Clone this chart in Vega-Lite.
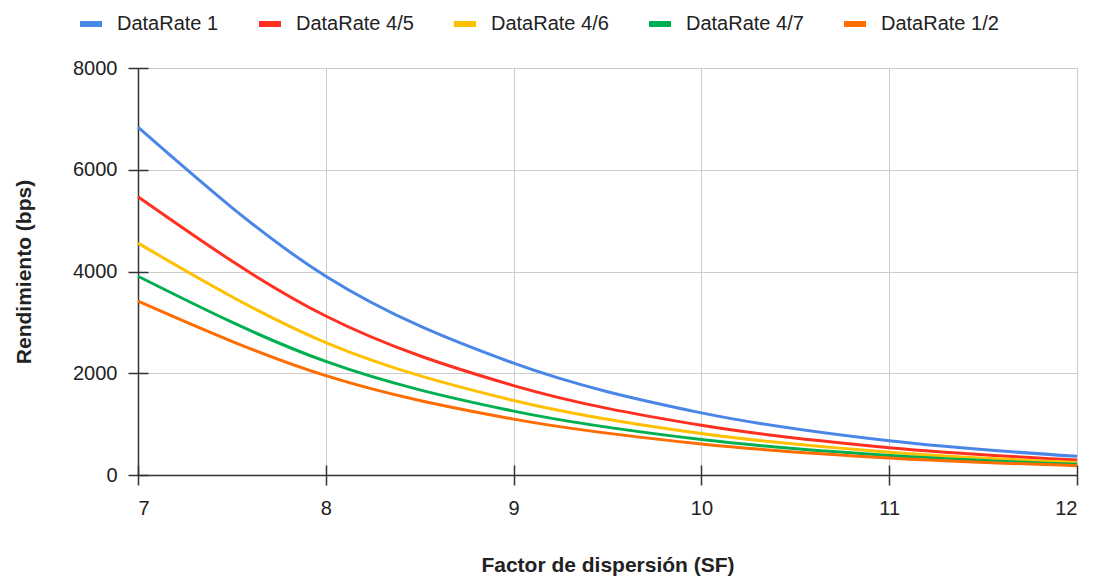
{
  "$schema": "https://vega.github.io/schema/vega-lite/v6.json",
  "width": 939,
  "height": 407,
  "autosize": {"type": "none"},
  "padding": {"left": 138, "top": 68, "right": 21, "bottom": 104},
  "background": "white",
  "config": {"view": {"stroke": null}, "font": "Liberation Sans"},
  "data": {
    "values": [
      {"sf": 7, "serie": "DataRate 1", "bps": 6835.9},
      {"sf": 8, "serie": "DataRate 1", "bps": 3906.3},
      {"sf": 9, "serie": "DataRate 1", "bps": 2197.3},
      {"sf": 10, "serie": "DataRate 1", "bps": 1220.7},
      {"sf": 11, "serie": "DataRate 1", "bps": 671.4},
      {"sf": 12, "serie": "DataRate 1", "bps": 366.2},
      {"sf": 7, "serie": "DataRate 4/5", "bps": 5468.8},
      {"sf": 8, "serie": "DataRate 4/5", "bps": 3125.0},
      {"sf": 9, "serie": "DataRate 4/5", "bps": 1757.8},
      {"sf": 10, "serie": "DataRate 4/5", "bps": 976.6},
      {"sf": 11, "serie": "DataRate 4/5", "bps": 537.1},
      {"sf": 12, "serie": "DataRate 4/5", "bps": 293.0},
      {"sf": 7, "serie": "DataRate 4/6", "bps": 4557.3},
      {"sf": 8, "serie": "DataRate 4/6", "bps": 2604.2},
      {"sf": 9, "serie": "DataRate 4/6", "bps": 1464.8},
      {"sf": 10, "serie": "DataRate 4/6", "bps": 813.8},
      {"sf": 11, "serie": "DataRate 4/6", "bps": 447.6},
      {"sf": 12, "serie": "DataRate 4/6", "bps": 244.1},
      {"sf": 7, "serie": "DataRate 4/7", "bps": 3906.3},
      {"sf": 8, "serie": "DataRate 4/7", "bps": 2232.1},
      {"sf": 9, "serie": "DataRate 4/7", "bps": 1255.6},
      {"sf": 10, "serie": "DataRate 4/7", "bps": 697.5},
      {"sf": 11, "serie": "DataRate 4/7", "bps": 383.6},
      {"sf": 12, "serie": "DataRate 4/7", "bps": 209.3},
      {"sf": 7, "serie": "DataRate 1/2", "bps": 3417.9},
      {"sf": 8, "serie": "DataRate 1/2", "bps": 1953.1},
      {"sf": 9, "serie": "DataRate 1/2", "bps": 1098.6},
      {"sf": 10, "serie": "DataRate 1/2", "bps": 610.4},
      {"sf": 11, "serie": "DataRate 1/2", "bps": 335.7},
      {"sf": 12, "serie": "DataRate 1/2", "bps": 183.1}
    ]
  },
  "layer": [
    {
      "mark": {"type": "point", "opacity": 0},
      "encoding": {
        "x": {
          "field": "sf", "type": "quantitative",
          "scale": {"domain": [7, 12], "nice": false, "zero": false},
          "axis": {"orient": "bottom", "offset": -10, "domain": false, "labels": false, "grid": false, "ticks": true, "tickSize": 20, "tickColor": "#333333", "tickWidth": 1.5, "values": [7, 8, 9, 10, 11, 12], "title": null}
        },
        "y": {
          "field": "bps", "type": "quantitative",
          "scale": {"domain": [0, 8000], "nice": false},
          "axis": {"orient": "left", "offset": -10, "domain": false, "labels": false, "grid": false, "ticks": true, "tickSize": 20, "tickColor": "#333333", "tickWidth": 1.5, "values": [0, 2000, 4000, 6000, 8000], "title": null}
        }
      }
    },
    {
      "mark": {"type": "line", "interpolate": "monotone", "strokeWidth": 3},
      "encoding": {
        "x": {
          "field": "sf", "type": "quantitative",
          "scale": {"domain": [7, 12], "nice": false, "zero": false},
          "axis": {
            "orient": "bottom", "values": [7, 8, 9, 10, 11, 12], "ticks": false, "format": "d",
            "domain": true, "domainColor": "#333333", "domainWidth": 1.5,
            "grid": true, "gridColor": "#cccccc", "gridWidth": 1,
            "labelFontSize": 20, "labelColor": "#222222", "labelPadding": 23,
            "title": "Factor de dispersión (SF)", "titleFontSize": 21, "titleFontWeight": "bold", "titleColor": "#222222",
            "titleX": 469.5, "titleY": 96, "titleBaseline": "alphabetic", "titleAlign": "center"
          }
        },
        "y": {
          "field": "bps", "type": "quantitative",
          "scale": {"domain": [0, 8000], "nice": false},
          "axis": {
            "orient": "left", "values": [0, 2000, 4000, 6000, 8000], "ticks": false, "format": "d",
            "domain": true, "domainColor": "#333333", "domainWidth": 1.5,
            "grid": true, "gridColor": "#cccccc", "gridWidth": 1,
            "labelFontSize": 20, "labelColor": "#222222", "labelPadding": 21,
            "title": "Rendimiento (bps)", "titleFontSize": 21, "titleFontWeight": "bold", "titleColor": "#222222",
            "titleX": -114, "titleY": 203.5, "titleAngle": -90, "titleBaseline": "middle", "titleAlign": "center"
          }
        },
        "color": {
          "field": "serie", "type": "nominal",
          "scale": {
            "domain": ["DataRate 1", "DataRate 4/5", "DataRate 4/6", "DataRate 4/7", "DataRate 1/2"],
            "range": ["#4A86E8", "#FF3020", "#FFC000", "#00B050", "#FF6D00"]
          },
          "legend": {
            "orient": "none", "legendX": -61, "legendY": -58, "direction": "horizontal", "title": null,
            "symbolType": "M-1,0H1", "symbolSize": 484, "symbolStrokeWidth": 6,
            "labelFontSize": 20, "labelColor": "#222222", "labelOffset": 12, "columnPadding": 28, "padding": 0
          }
        }
      }
    }
  ],
  "resolve": {"axis": {"x": "independent", "y": "independent"}}
}
